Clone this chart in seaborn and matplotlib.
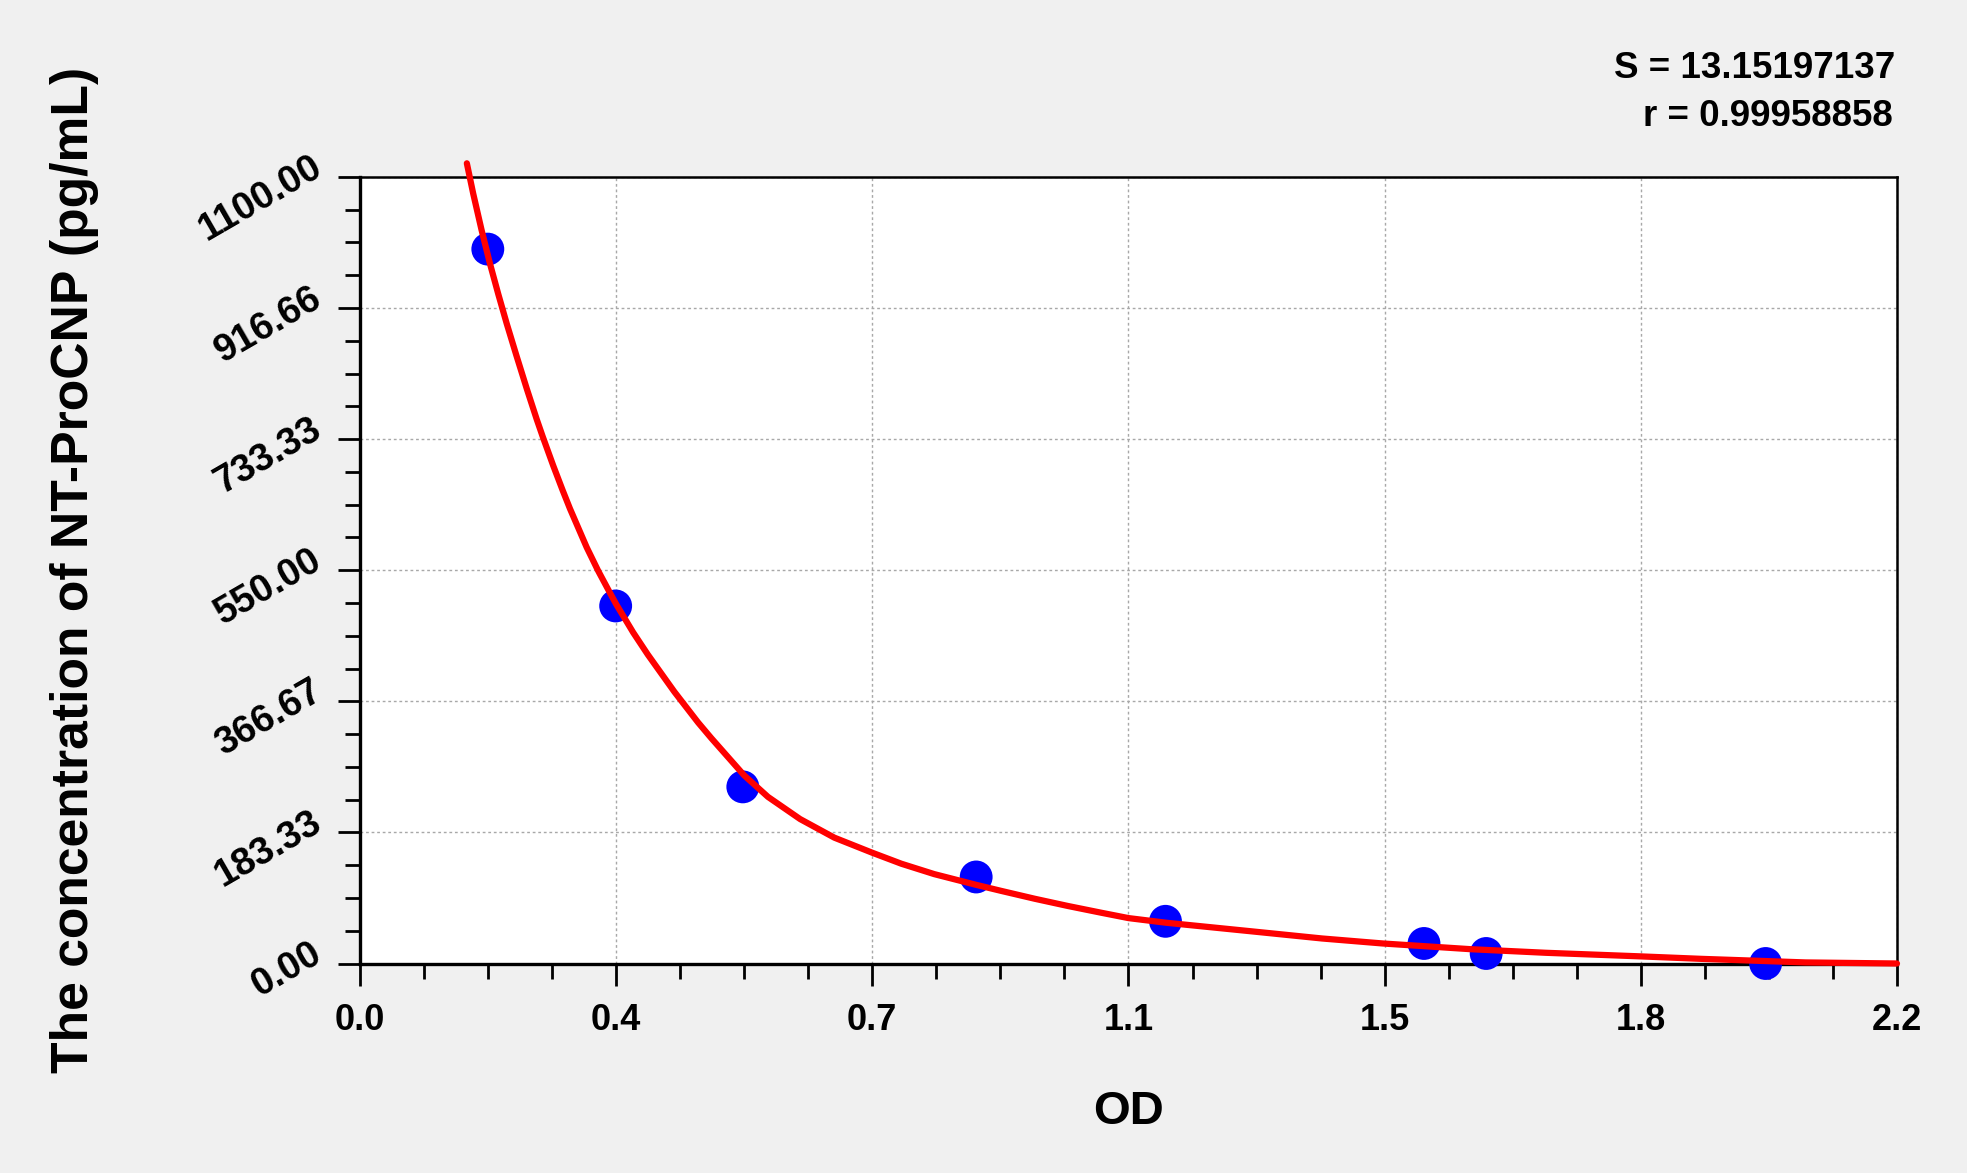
import numpy as np
import pandas as pd
import matplotlib
matplotlib.use("Agg")
import matplotlib.pyplot as plt
from matplotlib.ticker import AutoMinorLocator, FixedLocator, FixedFormatter
from matplotlib.transforms import ScaledTranslation
import seaborn as sns

# standards (OD vs concentration)
od_pts = [0.183, 0.366, 0.548, 0.882, 1.153, 1.523, 1.612, 2.012]
conc_pts = [999, 500, 247, 121, 59, 28, 14, 0]

# fitted curve
curve_od = [0.153, 0.162, 0.174, 0.186, 0.198, 0.210, 0.224, 0.239, 0.253, 0.2615,
            0.2767, 0.290, 0.3006, 0.3245, 0.341, 0.358, 0.367, 0.391, 0.412, 0.450,
            0.484, 0.503, 0.550, 0.584, 0.630, 0.679, 0.733, 0.775, 0.822, 0.882,
            0.918, 0.966, 1.013, 1.061, 1.100, 1.154, 1.271, 1.377, 1.464, 1.590,
            1.697, 1.832, 1.920, 2.069, 2.200]
curve_conc = [1119, 1077, 1026, 979, 936, 895, 850, 803, 761, 737,
              696, 662, 636, 582, 549, 518, 502, 463, 432, 380,
              337, 315, 263, 233, 202, 176, 155, 139.5, 125, 110,
              101.5, 90.5, 80.5, 71, 63.5, 57, 45.5, 35, 28, 20,
              15, 10, 6.5, 1.5, 0]

x_ticks = [0.0, 2.2/6, 4.4/6, 1.1, 8.8/6, 11/6, 2.2]
x_tick_labels = ["0.0", "0.4", "0.7", "1.1", "1.5", "1.8", "2.2"]
y_ticks = [0, 1100/6, 2200/6, 550, 4400/6, 5500/6, 1100]
y_tick_labels = ["0.00", "183.33", "366.67", "550.00", "733.33", "916.66", "1100.00"]

s_text = "S = 13.15197137"
r_text = "r = 0.99958858"

sns.set_theme(style="white")
plt.rcParams['font.family'] = ['Liberation Sans', 'DejaVu Sans']
plt.rcParams['font.weight'] = 'bold'
plt.rcParams['text.color'] = 'black'
plt.rcParams['axes.labelcolor'] = 'black'
plt.rcParams['xtick.color'] = 'black'
plt.rcParams['ytick.color'] = 'black'

pts = pd.DataFrame({'OD': od_pts, 'conc': conc_pts})
curve = pd.DataFrame({'OD': curve_od, 'conc': curve_conc})

fig = plt.figure(figsize=(19.67, 11.73), dpi=100, facecolor='#f0f0f0')
ax = fig.add_axes([0.183, 0.1786, 0.7814, 0.6706])
ax.set_facecolor('white')

sns.scatterplot(x='OD', y='conc', data=pts, ax=ax, color='#0000ff', s=560,
                edgecolor='none', linewidth=0, zorder=3, clip_on=False)
sns.lineplot(x='OD', y='conc', data=curve, ax=ax, color='#ff0000', linewidth=4.5,
             sort=False, zorder=4, clip_on=False)

ax.set_xlim(0, 2.2)
ax.set_ylim(0, 1100)

ax.xaxis.set_major_locator(FixedLocator(x_ticks))
ax.xaxis.set_major_formatter(FixedFormatter(x_tick_labels))
ax.yaxis.set_major_locator(FixedLocator(y_ticks))
ax.yaxis.set_major_formatter(FixedFormatter(y_tick_labels))
ax.xaxis.set_minor_locator(AutoMinorLocator(4))
ax.yaxis.set_minor_locator(AutoMinorLocator(4))

ax.tick_params(axis='both', which='major', direction='out', length=15.5, width=2,
               color='black', labelcolor='black', labelsize=26, bottom=True, left=True)
ax.tick_params(axis='both', which='minor', direction='out', length=11, width=2,
               color='black', bottom=True, left=True)
ax.tick_params(axis='x', which='major', pad=13)
ax.tick_params(axis='y', which='major', pad=14, labelsize=27.5)
shift = ScaledTranslation(0, 9/72, fig.dpi_scale_trans)
for lab in ax.get_yticklabels():
    lab.set_rotation(30)
    lab.set_rotation_mode('anchor')
    lab.set_ha('right')
    lab.set_va('center')
    lab.set_transform(lab.get_transform() + shift)
for lab in ax.get_xticklabels() + ax.get_yticklabels():
    lab.set_fontweight('bold')

ax.grid(True, which='major', color='#a8a8a8', linestyle=(0, (2, 2)), linewidth=1)
ax.set_axisbelow(True)
for side in ['left', 'bottom']:
    ax.spines[side].set_linewidth(2.4)
for side in ['top', 'right']:
    ax.spines[side].set_linewidth(1.8)
for sp in ax.spines.values():
    sp.set_color('black')
    sp.set_visible(True)

ax.set_xlabel('OD', fontsize=34, fontweight='bold', va='center')
ax.xaxis.set_label_coords(0.5, -0.189)
ax.set_ylabel('The concentration of NT-ProCNP (pg/mL)', fontsize=37.2,
              fontweight='bold', va='center')
ax.yaxis.set_label_coords(-0.1857, 0.5)

ax.text(0.9987, 1.1254, s_text, transform=ax.transAxes, ha='right',
        va='baseline', fontsize=26.5, fontweight='bold')
ax.text(0.9975, 1.0647, r_text, transform=ax.transAxes, ha='right',
        va='baseline', fontsize=26.5, fontweight='bold')

fig.savefig('out.png', dpi=100, facecolor=fig.get_facecolor())
